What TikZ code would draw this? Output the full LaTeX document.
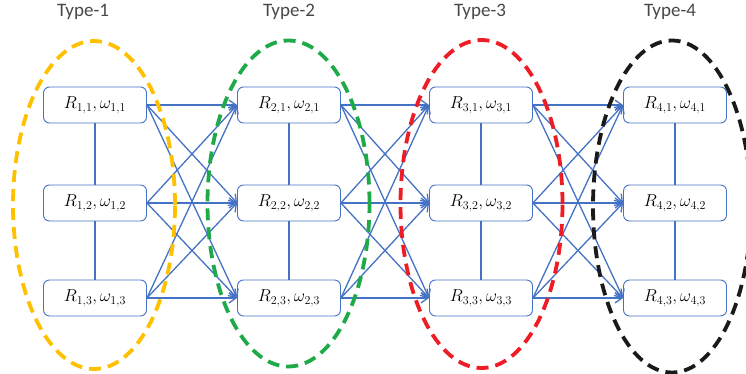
\documentclass[tikz,border=0pt]{standalone}
\usepackage{fontspec}
\newfontfamily\titlefont{Carlito}
\usetikzlibrary{arrows.meta}
\definecolor{linkblue}{HTML}{4472C4}
\definecolor{grpyellow}{HTML}{FFC000}
\definecolor{grpgreen}{HTML}{1EAA48}
\definecolor{grpred}{HTML}{EE1C24}
\definecolor{grpblack}{HTML}{1A1A1A}
\begin{document}
\begin{tikzpicture}[x=1pt,y=-1pt,
  state/.style={draw=linkblue, line width=0.9pt, rounded corners=6pt, fill=white,
    minimum width=103pt, minimum height=36pt, inner sep=0pt,
    font=\fontsize{17}{20}\selectfont},
  link/.style={draw=linkblue, line width=1.4pt},
  flow/.style={draw=linkblue, line width=1.3pt,
    -{Straight Barb[length=7pt,width=10pt,line width=1.3pt]}},
  group/.style={line width=3.8pt, dash pattern=on 12pt off 7pt},
  typelabel/.style={font=\titlefont\fontsize{19}{22}\selectfont, text=black!72}]
\clip (0,0) rectangle (746,374);

% type titles
\node[typelabel] (t1) at (83,12) {Type-1};
\node[typelabel] (t2) at (289,12) {Type-2};
\node[typelabel] (t3) at (480,12) {Type-3};
\node[typelabel] (t4) at (670,12) {Type-4};

% state boxes R_{i,j}, omega_{i,j}
\foreach \i/\x in {1/95,2/289,3/481,4/675}
  \foreach \j/\y in {1/105,2/203,3/298}
    \node[state] (n\i\j) at (\x,\y) {$R_{\i,\j},\omega_{\i,\j}$};

% links inside each type
\foreach \i in {1,2,3,4} {
  \draw[link] (n\i1) -- (n\i2);
  \draw[link] (n\i2) -- (n\i3);
}

% transitions between consecutive types
\foreach \i/\k in {1/2,2/3,3/4}
  \foreach \j in {1,2,3}
    \foreach \l in {1,2,3}
      \draw[flow] (n\i\j.east) -- (n\k\l.west);

% dashed type groups
\draw[group, grpyellow] (94,205) ellipse [x radius=81pt, y radius=164pt];
\draw[group, grpgreen] (288.5,203.5) ellipse [x radius=81pt, y radius=163pt];
\draw[group, grpred] (481.5,204) ellipse [x radius=81pt, y radius=164pt];
\draw[group, grpblack] (672,206.5) ellipse [x radius=79pt, y radius=166pt];
\end{tikzpicture}
\end{document}
